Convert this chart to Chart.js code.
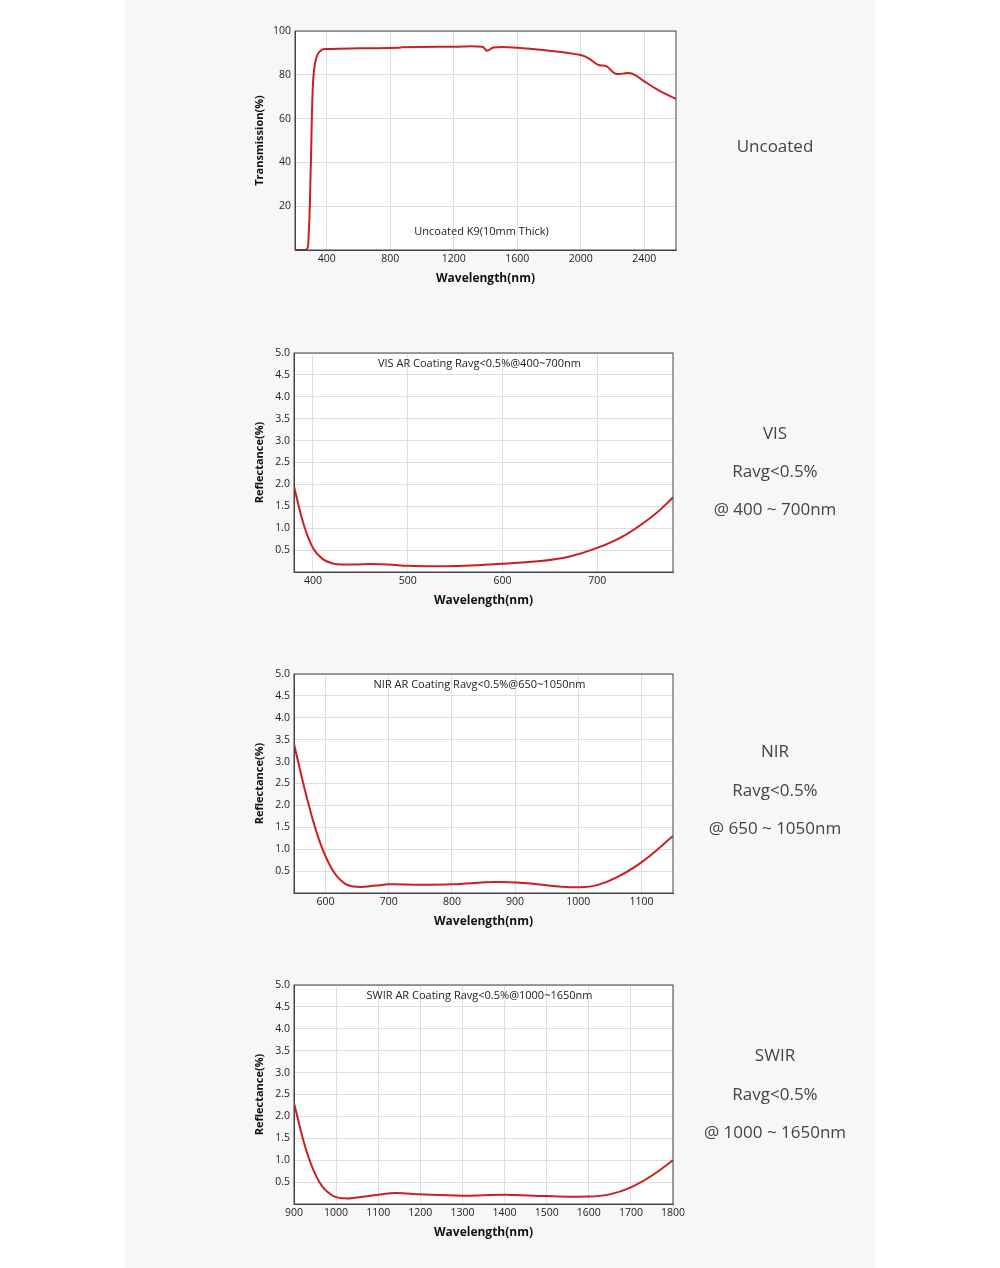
<!DOCTYPE html>
<html><head><meta charset="utf-8">
<script src="https://cdn.jsdelivr.net/npm/chart.js@4/dist/chart.umd.min.js"></script>
<style>
body{margin:0;background:#fff;font-family:"Open Sans",sans-serif;}
#panel{position:absolute;left:125px;top:0;width:750px;height:1268px;background:#f7f7f8;}
.c{position:absolute;}
.lab{position:absolute;width:200px;left:675px;text-align:center;font-size:17px;color:#444;transform:translateY(-50%);}
</style></head><body>
<div id="panel"></div>
<div class="c" style="left:240px;top:20px;width:450px;height:270px"><canvas id="c1"></canvas></div>
<div class="c" style="left:240px;top:342px;width:450px;height:270px"><canvas id="c2"></canvas></div>
<div class="c" style="left:240px;top:663px;width:450px;height:270px"><canvas id="c3"></canvas></div>
<div class="c" style="left:240px;top:974px;width:450px;height:270px"><canvas id="c4"></canvas></div>
<div class="lab" style="top:145px">Uncoated</div>
<div class="lab" style="top:432px">VIS</div><div class="lab" style="top:470px">Ravg&lt;0.5%</div><div class="lab" style="top:508px">@ 400 ~ 700nm</div>
<div class="lab" style="top:750px">NIR</div><div class="lab" style="top:789px">Ravg&lt;0.5%</div><div class="lab" style="top:827px">@ 650 ~ 1050nm</div>
<div class="lab" style="top:1054px">SWIR</div><div class="lab" style="top:1093px">Ravg&lt;0.5%</div><div class="lab" style="top:1131px">@ 1000 ~ 1650nm</div>
<script>
const uncX=[200,270,285,300,310,320,340,370,400,600,860,870,1200,1380,1410,1450,1600,1800,2000,2050,2110,2160,2220,2300,2340,2400,2500,2600];
const uncY=[0,0,5,40,70,82,89,91.5,91.8,92.1,92.3,92.6,92.8,92.8,91,92.5,92.4,91,89,87.5,84.5,84,80.5,80.8,80,77,72.5,69];
const visX=[380,390,400,410,420,430,460,480,500,530,560,600,640,670,700,730,760,780];
const visY=[1.95,1.1,0.55,0.3,0.2,0.17,0.18,0.17,0.14,0.13,0.14,0.19,0.25,0.35,0.55,0.85,1.3,1.7];
const nirX=[550,570,590,610,630,650,680,700,750,800,870,920,970,1000,1030,1060,1100,1150];
const nirY=[3.4,2.2,1.2,0.55,0.22,0.14,0.17,0.2,0.19,0.2,0.25,0.22,0.15,0.13,0.18,0.35,0.7,1.3];
const swirX=[900,930,960,990,1020,1050,1100,1140,1200,1300,1400,1500,1600,1650,1700,1750,1800];
const swirY=[2.3,1.2,0.5,0.2,0.13,0.15,0.21,0.25,0.22,0.19,0.21,0.18,0.17,0.22,0.38,0.65,1.0];
const uncTicksX=[400,800,1200,1600,2000,2400];
const uncTicksY=[20,40,60,80,100];
const visTicksX=[400,500,600,700];
const nirTicksX=[600,700,800,900,1000,1100];
const swirTicksX=[900,1000,1100,1200,1300,1400,1500,1600,1700,1800];
const reflTicksY=[0.5,1,1.5,2,2.5,3,3.5,4,4.5,5];

function make(id,xs,ys,xmin,xmax,xt,ymax,yt,ylab,title,titleTop,dec){
  const titlePlug={id:'t',afterDatasetsDraw(ch){const a=ch.chartArea,c=ch.ctx;c.save();c.font='11px "Open Sans"';c.fillStyle='#222';c.textAlign='center';c.textBaseline='middle';
    c.fillText(title,(a.left+a.right)/2-4,titleTop?a.top+11:a.bottom-18);c.restore();}};
  const bg={id:'bg',beforeDraw(ch){const a=ch.chartArea,c=ch.ctx;c.save();c.fillStyle='#fff';c.fillRect(a.left,a.top,a.right-a.left,a.bottom-a.top);c.restore();}};
  new Chart(document.getElementById(id),{type:'line',
    data:{datasets:[{data:xs.map((x,i)=>({x:x,y:ys[i]})),borderColor:'#cc1f1f',borderWidth:2,pointRadius:0,tension:0.4,fill:false}]},
    options:{responsive:true,maintainAspectRatio:false,animation:false,events:[],
      layout:{padding:{top:11,right:id==='c1'?14:17,bottom:0,left:9}},
      plugins:{legend:{display:false},tooltip:{enabled:false}},
      scales:{
        x:{type:'linear',min:xmin,max:xmax,afterBuildTicks:s=>{s.ticks=xt.map(v=>({value:v}));},afterFit:s=>{s.height=40;},
          grid:{color:'#dedede',drawTicks:false},border:{color:'#444',width:1},
          ticks:{color:'#222',font:{size:10.5,family:'"Open Sans"'},padding:3,maxRotation:0,callback:v=>String(v)},
          title:{display:true,text:'Wavelength(nm)',color:'#111',font:{size:12,weight:'bold',family:'"Open Sans"'},padding:{top:3}}},
        y:{min:0,max:ymax,afterBuildTicks:s=>{s.ticks=yt.map(v=>({value:v}));},afterFit:s=>{s.width=id==='c1'?46:45;},
          grid:{color:'#dedede',drawTicks:false},border:{color:'#444',width:1},
          ticks:{color:'#222',font:{size:10.5,family:'"Open Sans"'},padding:4,callback:v=>dec?v.toFixed(1):String(v)},
          title:{display:true,text:ylab,color:'#111',font:{size:11,weight:'bold',family:'"Open Sans"'},padding:{bottom:2}}}
      }},
    plugins:[bg,titlePlug,{id:'frame',afterDraw(ch){const a=ch.chartArea,c=ch.ctx;c.save();c.strokeStyle='#444';c.lineWidth=1;c.strokeRect(a.left,a.top,a.right-a.left,a.bottom-a.top);c.restore();}}]});
}
make('c1',uncX,uncY,200,2600,uncTicksX,100,uncTicksY,'Transmission(%)','Uncoated K9(10mm Thick)',false,false);
make('c2',visX,visY,380,780,visTicksX,5,reflTicksY,'Reflectance(%)','VIS AR Coating Ravg<0.5%@400~700nm',true,true);
make('c3',nirX,nirY,550,1150,nirTicksX,5,reflTicksY,'Reflectance(%)','NIR AR Coating Ravg<0.5%@650~1050nm',true,true);
make('c4',swirX,swirY,900,1800,swirTicksX,5,reflTicksY,'Reflectance(%)','SWIR AR Coating Ravg<0.5%@1000~1650nm',true,true);
</script></body></html>
